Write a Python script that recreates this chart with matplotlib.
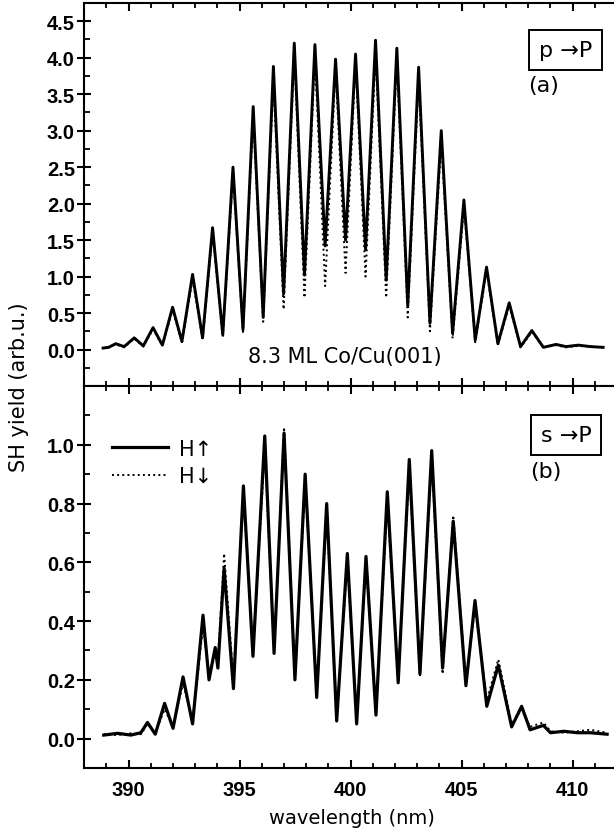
import matplotlib
matplotlib.use("Agg")
import matplotlib.pyplot as plt
from matplotlib import font_manager
from matplotlib.ticker import MultipleLocator, FormatStrFormatter

# ---- panel (a): p -> P, H up (solid) and H down (dotted) ----
top_wl = [388.85, 389.1, 389.42, 389.8, 390.25, 390.66, 391.1, 391.52, 391.98, 392.4,
          392.88, 393.33, 393.78, 394.24, 394.7, 395.15, 395.61, 396.06, 396.52, 396.98,
          397.46, 397.92, 398.39, 398.85, 399.32, 399.77, 400.22, 400.67, 401.12, 401.6,
          402.08, 402.57, 403.06, 403.57, 404.08, 404.59, 405.1, 405.61, 406.12, 406.63,
          407.14, 407.65, 408.16, 408.68, 409.25, 409.7, 410.25, 410.8, 411.37]
top_up = [0.02, 0.03, 0.08, 0.04, 0.16, 0.05, 0.30, 0.06, 0.58, 0.11,
          1.03, 0.16, 1.67, 0.20, 2.50, 0.27, 3.33, 0.44, 3.88, 0.76,
          4.20, 1.02, 4.18, 1.42, 3.98, 1.50, 4.05, 1.37, 4.24, 0.95,
          4.13, 0.60, 3.87, 0.36, 3.00, 0.22, 2.05, 0.13, 1.13, 0.08,
          0.64, 0.04, 0.26, 0.03, 0.07, 0.04, 0.06, 0.04, 0.03]
top_down = [0.02, 0.03, 0.07, 0.03, 0.15, 0.04, 0.28, 0.05, 0.55, 0.09,
            0.97, 0.13, 1.60, 0.17, 2.40, 0.24, 3.20, 0.38, 3.70, 0.55,
            4.05, 0.71, 4.02, 0.87, 3.85, 1.05, 3.95, 1.00, 4.05, 0.71,
            3.98, 0.44, 3.70, 0.25, 2.85, 0.15, 1.95, 0.10, 1.08, 0.06,
            0.60, 0.03, 0.24, 0.03, 0.06, 0.03, 0.05, 0.04, 0.03]

# ---- panel (b): s -> P ----
bot_wl = [388.88, 389.5, 390.1, 390.55, 390.85, 391.2, 391.62, 392.0, 392.45, 392.88,
          393.35, 393.62, 393.9, 394.02, 394.3, 394.72, 395.17, 395.6, 396.13, 396.55,
          397.0, 397.49, 397.95, 398.47, 398.92, 399.37, 399.85, 400.27, 400.69, 401.14,
          401.65, 402.14, 402.64, 403.12, 403.65, 404.14, 404.62, 405.19, 405.6, 406.13,
          406.65, 407.25, 407.7, 408.08, 408.68, 409.0, 409.6, 410.2, 410.8, 411.55]
bot_up = [0.012, 0.018, 0.012, 0.02, 0.055, 0.015, 0.12, 0.035, 0.21, 0.05,
          0.42, 0.20, 0.31, 0.24, 0.58, 0.17, 0.86, 0.28, 1.03, 0.29,
          1.04, 0.20, 0.90, 0.14, 0.80, 0.06, 0.63, 0.05, 0.62, 0.08,
          0.84, 0.19, 0.95, 0.22, 0.98, 0.24, 0.74, 0.18, 0.47, 0.11,
          0.25, 0.04, 0.11, 0.03, 0.045, 0.02, 0.025, 0.02, 0.02, 0.015]
bot_down = [0.015, 0.012, 0.018, 0.015, 0.05, 0.02, 0.10, 0.04, 0.19, 0.06,
            0.38, 0.22, 0.30, 0.26, 0.63, 0.20, 0.83, 0.30, 0.98, 0.30,
            1.06, 0.21, 0.87, 0.16, 0.77, 0.07, 0.60, 0.06, 0.60, 0.09,
            0.80, 0.20, 0.92, 0.21, 0.95, 0.22, 0.76, 0.19, 0.45, 0.13,
            0.27, 0.05, 0.10, 0.04, 0.055, 0.025, 0.02, 0.025, 0.03, 0.02]

top_ticks = [0.0, 0.5, 1.0, 1.5, 2.0, 2.5, 3.0, 3.5, 4.0, 4.5]
bot_ticks = [0.0, 0.2, 0.4, 0.6, 0.8, 1.0]
x_ticks = [390, 395, 400, 405, 410]

names = {f.name for f in font_manager.fontManager.ttflist}
if "Liberation Sans Narrow" in names:
    tick_family = "Liberation Sans Narrow"
elif "Liberation Sans" in names:
    tick_family = "Liberation Sans"
else:
    tick_family = "DejaVu Sans"
plt.rcParams["font.family"] = ["DejaVu Sans"]

W, H = 614, 837
fig = plt.figure(figsize=(W / 100, H / 100), dpi=100)

left_px, right_px = 84, 616
ax_top = fig.add_axes([left_px / W, 1 - 387 / H, (right_px - left_px) / W, 383 / H])
ax_bot = fig.add_axes([left_px / W, 1 - 769 / H, (right_px - left_px) / W, 382 / H],
                      sharex=ax_top)

ax_top.plot(top_wl, top_up, color="black", lw=2.1, ls="-", solid_joinstyle="round")
ax_top.plot(top_wl, top_down, color="black", lw=1.4, ls=":")
l1, = ax_bot.plot(bot_wl, bot_up, color="black", lw=2.3, ls="-", solid_joinstyle="round")
l2, = ax_bot.plot(bot_wl, bot_down, color="black", lw=1.4, ls=":")

ax_top.set_xlim(387.99, 411.95)
ax_top.set_ylim(-0.5, 4.75)
ax_bot.set_ylim(-0.1, 1.2)

for ax, yt, ymin in ((ax_top, top_ticks, 0.25), (ax_bot, bot_ticks, 0.1)):
    ax.set_yticks(yt)
    ax.yaxis.set_minor_locator(MultipleLocator(ymin))
    ax.yaxis.set_major_formatter(FormatStrFormatter("%.1f"))
    ax.set_xticks(x_ticks)
    ax.xaxis.set_minor_locator(MultipleLocator(1))
    for sp in ax.spines.values():
        sp.set_linewidth(1.5)
    ax.tick_params(axis="x", which="major", direction="in", length=6, width=1.5,
                   top=True, bottom=True, pad=9)
    ax.tick_params(axis="x", which="minor", direction="in", length=3.3, width=1.3,
                   top=True, bottom=True)
    ax.tick_params(axis="y", which="major", direction="inout", length=10, width=1.5,
                   pad=1.5, right=False)
    ax.tick_params(axis="y", which="minor", direction="in", length=4.3, width=1.3,
                   right=False)
    for lab in ax.get_yticklabels() + ax.get_xticklabels():
        lab.set_family(tick_family)
        lab.set_fontweight("bold")
        lab.set_fontsize(14.5)

ax_top.tick_params(axis="x", labelbottom=False)

# annotations
box = dict(boxstyle="square,pad=0.45", facecolor="white", edgecolor="black", linewidth=1.4)
ax_top.text(0.905, 0.876, "p \u2192P", transform=ax_top.transAxes, ha="center",
            va="center", fontsize=16, bbox=box)
ax_top.text(0.863, 0.786, "(a)", transform=ax_top.transAxes, ha="center",
            va="center", fontsize=16)
ax_top.text(0.49, 0.078, "8.3 ML Co/Cu(001)", transform=ax_top.transAxes, ha="center",
            va="center", fontsize=15)

ax_bot.text(0.906, 0.871, "s \u2192P", transform=ax_bot.transAxes, ha="center",
            va="center", fontsize=16, bbox=box)
ax_bot.text(0.868, 0.777, "(b)", transform=ax_bot.transAxes, ha="center",
            va="center", fontsize=16)

ax_bot.legend([l1, l2], ["H\u2191", "H\u2193"], loc="upper left",
              bbox_to_anchor=(0.053, 0.862), frameon=False, borderaxespad=0,
              borderpad=0, handlelength=2.7, handletextpad=0.5, labelspacing=0.35,
              prop={"size": 15})

fig.text(19 / W, 1 - 387 / H, "SH yield (arb.u.)", rotation=90, ha="center",
         va="center", fontsize=15)
fig.text(352 / W, 1 - 819 / H, "wavelength (nm)", ha="center", va="center", fontsize=14)

fig.savefig("out.png", dpi=100)
